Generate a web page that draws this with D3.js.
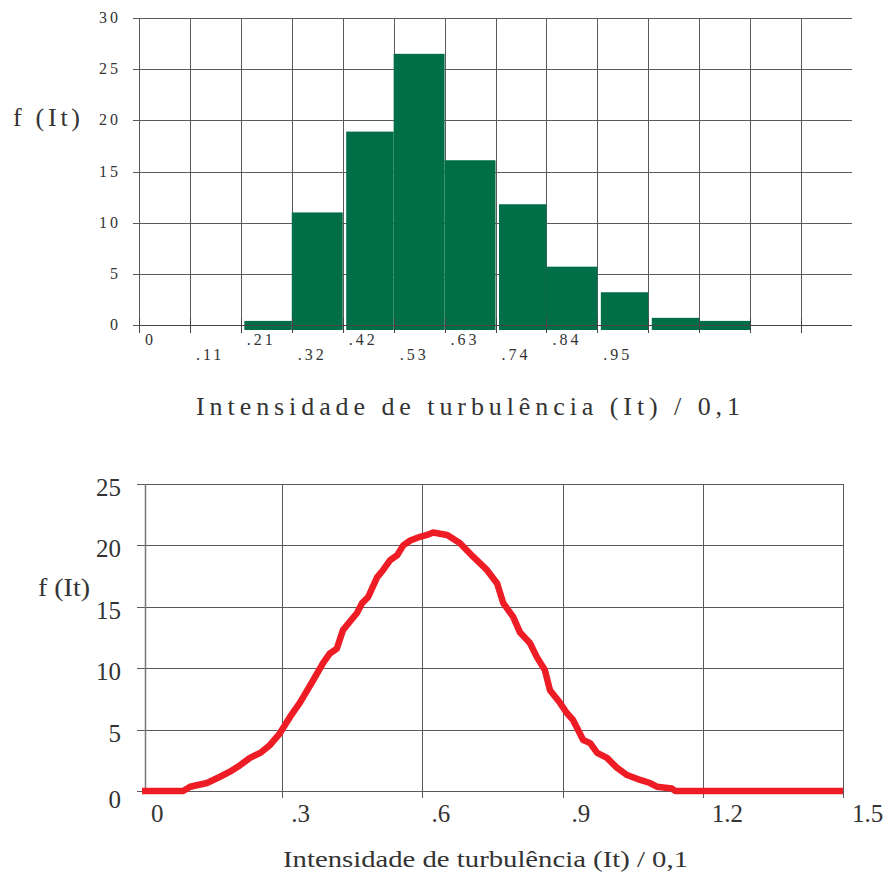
<!DOCTYPE html>
<html>
<head>
<meta charset="utf-8">
<script src="https://cdn.jsdelivr.net/npm/d3@7"></script>
<style>
  body { margin: 0; background: #fff; }
  text { font-family: "Times New Roman", "Liberation Serif", Times, serif; fill: #333; }
</style>
</head>
<body>
<svg id="chart" width="888" height="872"></svg>
<script>
// --- top histogram data ---
const binWidth = 0.105;
const binCount = 14;
const binEdgeLabels = ["0", ".11", ".21", ".32", ".42", ".53", ".63", ".74", ".84", ".95"];
const binValues = [0, 0, 0.4, 11.0, 18.9, 26.5, 16.1, 11.8, 5.7, 3.2, 0.7, 0.4, 0, 0];
const histYTicks = [0, 5, 10, 15, 20, 25, 30];

// --- bottom curve data ---
const curveX = [0, 0.088, 0.103, 0.139, 0.167, 0.188, 0.210, 0.231, 0.253, 0.274, 0.295, 0.317, 0.338, 0.366, 0.387,
  0.402, 0.417, 0.430, 0.445, 0.460, 0.471, 0.484, 0.503, 0.516, 0.531, 0.546, 0.559, 0.574, 0.595, 0.610, 0.623,
  0.653, 0.680, 0.708, 0.738, 0.760, 0.773, 0.794, 0.809, 0.830, 0.845, 0.862, 0.873, 0.894, 0.909, 0.922, 0.944,
  0.959, 0.974, 0.995, 1.016, 1.038, 1.066, 1.087, 1.102, 1.134, 1.141, 1.5];
const curveY = [0, 0, 0.35, 0.65, 1.16, 1.57, 2.1, 2.7, 3.1, 3.75, 4.7, 6.05, 7.2, 9.0, 10.4,
  11.2, 11.6, 13.1, 13.8, 14.5, 15.3, 15.8, 17.4, 18.0, 18.8, 19.2, 20.0, 20.4, 20.7, 20.85, 21.05,
  20.85, 20.2, 19.1, 18.0, 16.9, 15.3, 14.2, 12.9, 12.05, 10.9, 9.85, 8.2, 7.2, 6.35, 5.8, 4.15,
  3.9, 3.1, 2.7, 1.9, 1.3, 0.9, 0.65, 0.35, 0.2, 0, 0];
const curveXTicks = [0, 0.3, 0.6, 0.9, 1.2, 1.5];
const curveXTickLabels = ["0", ".3", ".6", ".9", "1.2", "1.5"];
const curveYTicks = [0, 5, 10, 15, 20, 25];

const xTitle = "Intensidade de turbulência (It) / 0,1";
const yTitle = "f (It)";

const svg = d3.select("#chart");
const crisp = v => Math.round(v) + 0.5;
const gridColor = "#5a5a5a";

// ================= top: histogram =================
{
  const g = svg.append("g");
  const x = d3.scaleLinear().domain([0, binWidth * binCount]).range([139, 852]);
  const y = d3.scaleLinear().domain([0, 30]).range([325, 18]);
  const edges = d3.range(binCount);

  // horizontal grid (with small left ticks)
  g.selectAll("line.hgrid").data(histYTicks).join("line")
    .attr("x1", 133).attr("x2", 852)
    .attr("y1", d => crisp(y(d))).attr("y2", d => crisp(y(d)))
    .attr("stroke", gridColor).attr("stroke-width", 1);

  // vertical grid
  g.selectAll("line.vgrid").data(edges).join("line")
    .attr("x1", d => crisp(x(d * binWidth))).attr("x2", d => crisp(x(d * binWidth)))
    .attr("y1", y(30)).attr("y2", y(0))
    .attr("stroke", gridColor).attr("stroke-width", 1);

  // bars (small white split before some bars, as in the original)
  const splitBefore = new Set([2, 4, 7, 9, 10]);
  const bars = binValues.map((v, i) => ({ i, v })).filter(d => d.v > 0);
  g.selectAll("rect.bar").data(bars).join("rect")
    .attr("x", d => x(d.i * binWidth) + (splitBefore.has(d.i) ? 3.5 : 0))
    .attr("width", d => x((d.i + 1) * binWidth) - x(d.i * binWidth) - (splitBefore.has(d.i) ? 3.5 : 0))
    .attr("y", d => y(d.v))
    .attr("height", d => y(0) - y(d.v) + 5)
    .attr("fill", "#006e47");

  // zero axis + tick marks drawn over bars
  g.append("line")
    .attr("x1", 139).attr("x2", 852)
    .attr("y1", crisp(y(0))).attr("y2", crisp(y(0)))
    .attr("stroke", "#444").attr("stroke-width", 1);
  g.selectAll("line.xtick").data(edges).join("line")
    .attr("x1", d => crisp(x(d * binWidth))).attr("x2", d => crisp(x(d * binWidth)))
    .attr("y1", 318).attr("y2", 333)
    .attr("stroke", "#444").attr("stroke-width", 1);

  // y tick labels
  g.selectAll("text.ylab").data(histYTicks).join("text")
    .attr("x", 121).attr("y", d => y(d) + 5)
    .attr("text-anchor", "end")
    .attr("font-size", 16).attr("letter-spacing", 3)
    .text(d => d);

  // x tick labels, staggered
  g.selectAll("text.xlab").data(binEdgeLabels).join("text")
    .attr("x", (d, i) => x(i * binWidth) + 6)
    .attr("y", (d, i) => i % 2 === 0 ? 345 : 360)
    .attr("font-size", 16).attr("letter-spacing", 3)
    .text(d => d);

  g.append("text")
    .attr("x", 13).attr("y", 126)
    .attr("font-size", 26)
    .attr("textLength", 67)
    .text(yTitle);

  g.append("text")
    .attr("x", 196).attr("y", 415)
    .attr("font-size", 26)
    .attr("textLength", 544)
    .text(xTitle);
}

// ================= bottom: curve =================
{
  const g = svg.append("g");
  const x = d3.scaleLinear().domain([0, 1.5]).range([142, 843]);
  const y = d3.scaleLinear().domain([0, 25]).range([791, 484]);
  const plotLeft = 145;

  g.selectAll("line.hgrid").data(curveYTicks).join("line")
    .attr("x1", plotLeft - 8).attr("x2", x(1.5))
    .attr("y1", d => crisp(y(d))).attr("y2", d => crisp(y(d)))
    .attr("stroke", gridColor).attr("stroke-width", 1);

  g.selectAll("line.vgrid").data(curveXTicks.slice(1)).join("line")
    .attr("x1", d => crisp(x(d))).attr("x2", d => crisp(x(d)))
    .attr("y1", y(25)).attr("y2", y(0) + 7)
    .attr("stroke", gridColor).attr("stroke-width", 1);

  g.append("line")
    .attr("x1", crisp(plotLeft)).attr("x2", crisp(plotLeft))
    .attr("y1", y(25)).attr("y2", y(0))
    .attr("stroke", "#777").attr("stroke-width", 1.5);

  const line = d3.line()
    .x((d, i) => x(curveX[i]))
    .y(d => y(d));
  g.append("path")
    .datum(curveY)
    .attr("d", line)
    .attr("fill", "none")
    .attr("stroke", "#ee1c25")
    .attr("stroke-width", 6.5)
    .attr("stroke-linejoin", "round");

  g.selectAll("text.ylab").data(curveYTicks).join("text")
    .attr("x", 121).attr("y", d => y(d) + (d === 0 ? 17 : 12))
    .attr("text-anchor", "end")
    .attr("font-size", 25)
    .text(d => d);

  g.selectAll("text.xlab").data(curveXTicks).join("text")
    .attr("x", d => x(d) + 9)
    .attr("y", 822)
    .attr("font-size", 25)
    .text((d, i) => curveXTickLabels[i]);

  g.append("text")
    .attr("x", 38).attr("y", 596)
    .attr("font-size", 25)
    .attr("textLength", 52).attr("lengthAdjust", "spacingAndGlyphs")
    .text(yTitle);

  g.append("text")
    .attr("x", 283).attr("y", 867)
    .attr("font-size", 24)
    .attr("textLength", 405).attr("lengthAdjust", "spacingAndGlyphs")
    .text(xTitle);
}
</script>
</body>
</html>
